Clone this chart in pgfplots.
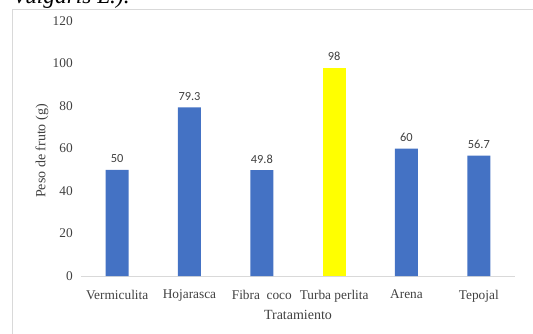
\documentclass[border=0pt]{standalone}
\usepackage{fontspec}
\setmainfont{Liberation Serif}
\newfontfamily\labelfont{Carlito}
\usepackage{pgfplots}
\pgfplotsset{compat=1.18}
\definecolor{barblue}{HTML}{4472C4}
\definecolor{baryellow}{HTML}{FFFF00}
\definecolor{textgray}{HTML}{404040}
\definecolor{framegray}{HTML}{D9D9D9}
\begin{document}
\begin{tikzpicture}
\path[use as bounding box] (0,0) rectangle (399.75pt,249.75pt);
\begin{scope}
  \clip (0,0) rectangle (399.75pt,249.75pt);
  % end of the caption line above the figure
  \node[anchor=base west, inner sep=0, font=\fontsize{17.5}{20}\selectfont\itshape]
    at (11pt,247.2pt) {vulgaris L.).};
  % chart area border
  \draw[framegray, line width=0.75pt] (9pt,-5pt) -- (9pt,242.5pt) -- (410pt,242.5pt);
\end{scope}
\begin{axis}[
  at={(60.75pt,42.75pt)}, anchor=south west,
  scale only axis, width=325.5pt, height=191.25pt,
  ybar, bar width=17.25pt,
  xmin=-0.5, xmax=5.5, ymin=0, ymax=120,
  xtick={0,1,2,3,4,5},
  xticklabels={Vermiculita, Hojarasca, Fibra~~coco, Turba perlita, Arena, Tepojal},
  ytick={0,20,...,120},
  axis x line*=bottom, axis y line*=left,
  x axis line style={draw=framegray, line width=0.75pt},
  y axis line style={draw=none},
  major tick length=0pt,
  /pgf/number format/assume math mode=true,
  tick label style={font=\fontsize{10}{12}\selectfont, text=textgray},
  xticklabel style={yshift=-7pt},
  yticklabel style={xshift=-2.7pt},
  xlabel={Tratamiento},
  ylabel={Peso de fruto (g)},
  label style={font=\fontsize{10.5}{12}\selectfont, text=textgray},
  xlabel style={at={(axis description cs:0.5,-0.133)}, anchor=north, inner sep=0pt},
  ylabel style={at={(axis description cs:-0.09,0.49)}, anchor=center},
  nodes near coords,
  every node near coord/.append style={font=\labelfont\fontsize{9.3}{10}\selectfont, text=textgray, yshift=1.5pt},
  clip=false,
]
\addplot[fill=barblue, draw=none, bar shift=0pt]
  coordinates {(0,50) (1,79.3) (2,49.8) (4,60) (5,56.7)};
\addplot[fill=baryellow, draw=none, bar shift=0pt]
  coordinates {(3,98)};
\end{axis}
\end{tikzpicture}
\end{document}
